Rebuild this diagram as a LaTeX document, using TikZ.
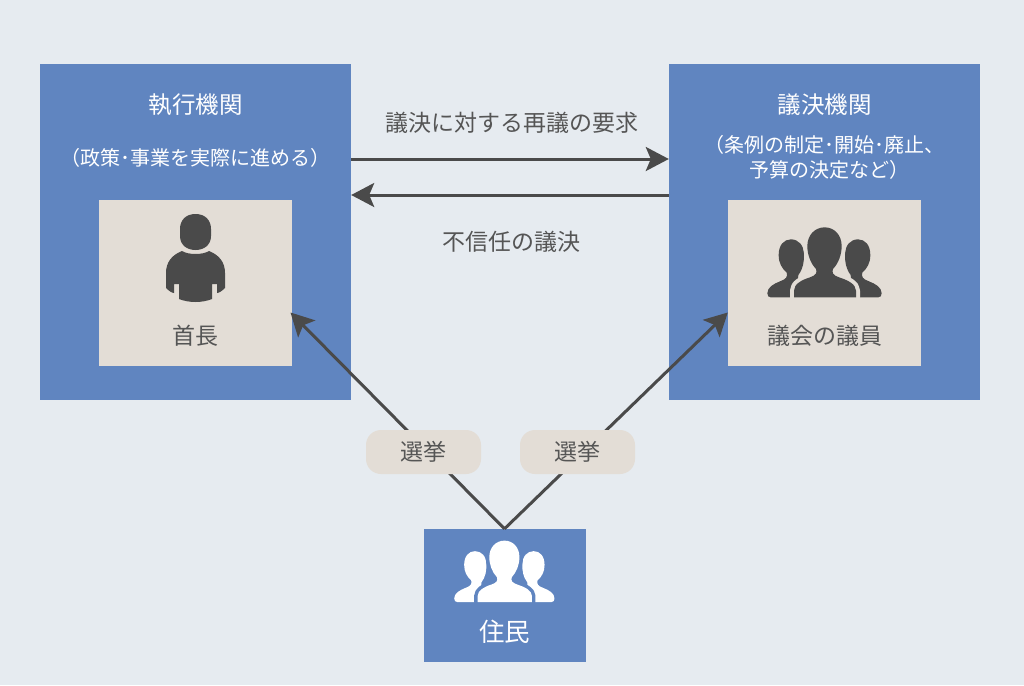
\documentclass[tikz,border=0pt]{standalone}
\usepackage{fontspec}
\setmainfont{Noto Sans CJK JP}
\usetikzlibrary{arrows.meta}
\definecolor{bgc}{HTML}{E6EBF0}
\definecolor{bluec}{HTML}{6085C0}
\definecolor{beigec}{HTML}{E3DDD6}
\definecolor{darkc}{HTML}{4A4A4A}
\definecolor{textc}{HTML}{555555}
\tikzset{
  bluebox/.style={fill=bluec,inner sep=0pt,minimum width=311pt,minimum height=336pt},
  beigebox/.style={fill=beigec,inner sep=0pt,minimum width=193pt,minimum height=166pt},
  pill/.style={fill=beigec,rounded corners=15pt,inner sep=0pt,minimum width=115pt,minimum height=44pt,text=textc,font=\fontsize{23}{23}\selectfont},
  lab/.style={inner sep=0pt,text=textc,font=\fontsize{23}{23}\selectfont},
  whitelab/.style={inner sep=0pt,text=white,font=\fontsize{23.5}{23.5}\selectfont},
  sublab/.style={inner sep=0pt,text=white,font=\fontsize{20}{25}\selectfont,align=center},
  conn/.style={draw=darkc,line width=3pt},
  arrowconn/.style={conn,-{Stealth[length=23pt,width=24pt,inset=5pt]}}
}
% group icon: local units are third-pixels of the zoomed crop
\newcommand{\sidepersonL}{(112,280) .. controls (112,262) and (130,252) .. (150,244) .. controls (168,238) and (174,230) .. (170,218) .. controls (156,205) and (146,190) .. (146,165) .. controls (146,135) and (162,118) .. (183,118) .. controls (205,118) and (222,135) .. (222,165) .. controls (222,185) and (220,205) .. (205,225) -- (200,292) -- (122,292) .. controls (116,292) and (112,288) .. (112,280) -- cycle}
\newcommand{\sidepersonR}{(455,280) .. controls (455,262) and (437,252) .. (417,244) .. controls (399,238) and (393,230) .. (397,218) .. controls (411,205) and (421,190) .. (421,165) .. controls (421,135) and (405,118) .. (384,118) .. controls (362,118) and (345,135) .. (345,165) .. controls (345,185) and (347,205) .. (362,225) -- (367,292) -- (445,292) .. controls (451,292) and (455,288) .. (455,280) -- cycle}
\newcommand{\centerperson}{(192,292) -- (192,272) .. controls (192,252) and (215,240) .. (240,232) .. controls (258,226) and (262,218) .. (258,207) .. controls (242,190) and (232,165) .. (232,138) .. controls (232,105) and (255,82) .. (284,82) .. controls (313,82) and (335,105) .. (335,138) .. controls (335,165) and (325,190) .. (309,207) .. controls (305,218) and (309,226) .. (327,232) .. controls (352,240) and (378,252) .. (378,272) -- (378,292) -- cycle}
\newcommand{\groupicon}[3]{% fg, bg, gap width
  \fill[#1] \sidepersonL;
  \fill[#1] \sidepersonR;
  \draw[#2,line width=#3,line join=round] \centerperson;
  \fill[#1] \centerperson;
}
\begin{document}
\begin{tikzpicture}[x=1pt,y=-1pt]
\useasboundingbox (0,0) rectangle (1024,685);
\fill[bgc] (0,0) rectangle (1024,685);

\node[bluebox] (exec) at (195.5,232) {};
\node[bluebox] (leg) at (824.5,232) {};
\node[beigebox] (mayor) at (195.5,283) {};
\node[beigebox] (council) at (824.5,283) {};
\node[fill=bluec,inner sep=0pt,minimum width=162pt,minimum height=133pt] (res) at (504.5,595.5) {};

\node[whitelab] (t1) at (195.5,105) {執行機関};
\node[sublab] (t2) at (195.5,158) {（政策･事業を実際に進める）};
\node[whitelab] (t3) at (824.5,105) {議決機関};
\node[sublab] (t4) at (824.5,157.5) {（条例の制定･開始･廃止、\\\hspace{10pt}予算の決定など）};
\node[lab] (t5) at (195.5,336) {首長};
\node[lab] (t6) at (824.5,336) {議会の議員};
\node[inner sep=0pt,text=white,font=\fontsize{25.5}{25.5}\selectfont] (t7) at (504.5,632) {住民};

\coordinate (a1s) at (exec.east |- 0,159);
\coordinate (a1e) at (leg.west |- 0,159);
\coordinate (a2s) at (leg.west |- 0,195);
\coordinate (a2e) at (exec.east |- 0,195);
\draw[arrowconn] (a1s) -- (a1e);
\draw[arrowconn] (a2s) -- (a2e);
\node[lab] (t8) at (511.5,123) {議決に対する再議の要求};
\node[lab] (t9) at (511,242) {不信任の議決};

\coordinate (d1e) at (290.5,312.5);
\coordinate (d2e) at (council.west |- 0,312.5);
\draw[arrowconn] (res.north) -- (d1e);
\draw[arrowconn] (res.north) -- (d2e);
\node[pill] (p1) at (423.5,452) {選挙};
\node[pill] (p2) at (577.5,452) {選挙};

% single person icon
\fill[darkc] (195.5,214) .. controls (186,214) and (180,220) .. (180,229) -- (180,236) .. controls (180,245) and (187,250) .. (195.5,250) .. controls (204,250) and (211,245) .. (211,236) -- (211,229) .. controls (211,220) and (205,214) .. (195.5,214) -- cycle;
\fill[darkc] (182,251) .. controls (188,255) and (203,255) .. (209,251) .. controls (219,255) and (225,262) .. (225,273) -- (225,288) .. controls (222,291) and (219,293) .. (217,293) -- (217,284) -- (212,284) -- (212,299) .. controls (202,303) and (189,303) .. (179,299) -- (179,284) -- (174,284) -- (174,293) .. controls (172,293) and (169,291) .. (166,288) -- (166,273) .. controls (166,262) and (172,255) .. (182,251) -- cycle;

% group icons
\begin{scope}[shift={(730,200)},x=0.3333pt,y=-0.3333pt]
\groupicon{darkc}{beigec}{8pt}
\end{scope}
\begin{scope}[shift={(504.5,602)},x=0.2923pt,y=-0.2923pt,shift={(-284,-292)}]
\groupicon{white}{bluec}{7pt}
\end{scope}
\end{tikzpicture}
\end{document}
